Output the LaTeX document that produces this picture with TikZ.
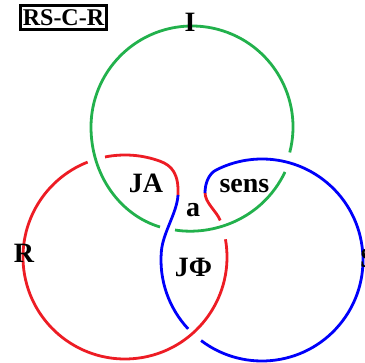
\documentclass[tikz,border=0pt]{standalone}
\usepackage{fontspec}
\setmainfont{Liberation Serif}
\usetikzlibrary{calc}
\definecolor{igreen}{RGB}{34,177,76}
\definecolor{rred}{RGB}{237,28,36}
\definecolor{sblue}{RGB}{0,0,250}
\begin{document}
\begin{tikzpicture}[x=1pt,y=-1pt,
  ring/.style={line width=2.8pt,line cap=butt},
  gr/.style={ring,draw=igreen},
  rd/.style={ring,draw=rred},
  bl/.style={ring,draw=sblue},
  lab/.style={font=\fontsize{28}{28}\selectfont\bfseries,anchor=base,inner sep=0pt},
  titlebox/.style={draw=black,line width=3pt,minimum width=86pt,minimum height=24pt,inner sep=0pt,
    font=\fontsize{24}{24}\selectfont\bfseries}]
\useasboundingbox (0,0) rectangle (365,363);
\clip (0,0) rectangle (365,363);
\coordinate (G) at (192,127);
\coordinate (R) at (125,257);
\coordinate (B) at (262,260);
% green ring (I)
\draw[gr] ($(G)+(14.6:101)$) arc[start angle=14.6, end angle=-180, radius=101]
  .. controls (91,175) and (120,215) .. (160,227);
\draw[gr] (175,230) .. controls (212,236) and (262,220) .. (285,172);
% red ring (R)
\draw[rd] ($(R)+(258.7:102)$) arc[start angle=258.7, end angle=290, radius=102]
  .. controls (172,165.5) and (179,174) .. (178,195.5);
\draw[rd] (205,192.5) .. controls (205,203) and (216.6,211.1) .. ($(R)+(-21:102)$);
\draw[rd] ($(R)+(-10:102)$) arc[start angle=-10, end angle=248.5, radius=102];
% blue ring (S)
\draw[bl] (178,195) .. controls (177,213) and (163,232.3) .. ($(B)+(185:101)$)
  arc[start angle=185, end angle=137, radius=101];
\draw[bl] ($(B)+(127.1:101)$) arc[start angle=127.1, end angle=-117, radius=101]
  .. controls (209,173.6) and (205,183) .. (205,193);
% labels
\node[titlebox] (title) at (63.5,17.5) {RS-C-R};
\node[lab] (I) at (190,32) {I};
\node[lab] (Rl) at (24,263) {R};
\node[lab] (Sl) at (368,268) {S};
\node[lab] (JA) at (146,193) {JA};
\node[lab] (a) at (193,217) {a};
\node[lab] (sens) at (244.5,193) {sens};
\node[lab] (JPhi) at (193.5,277) {JΦ};
\end{tikzpicture}
\end{document}
